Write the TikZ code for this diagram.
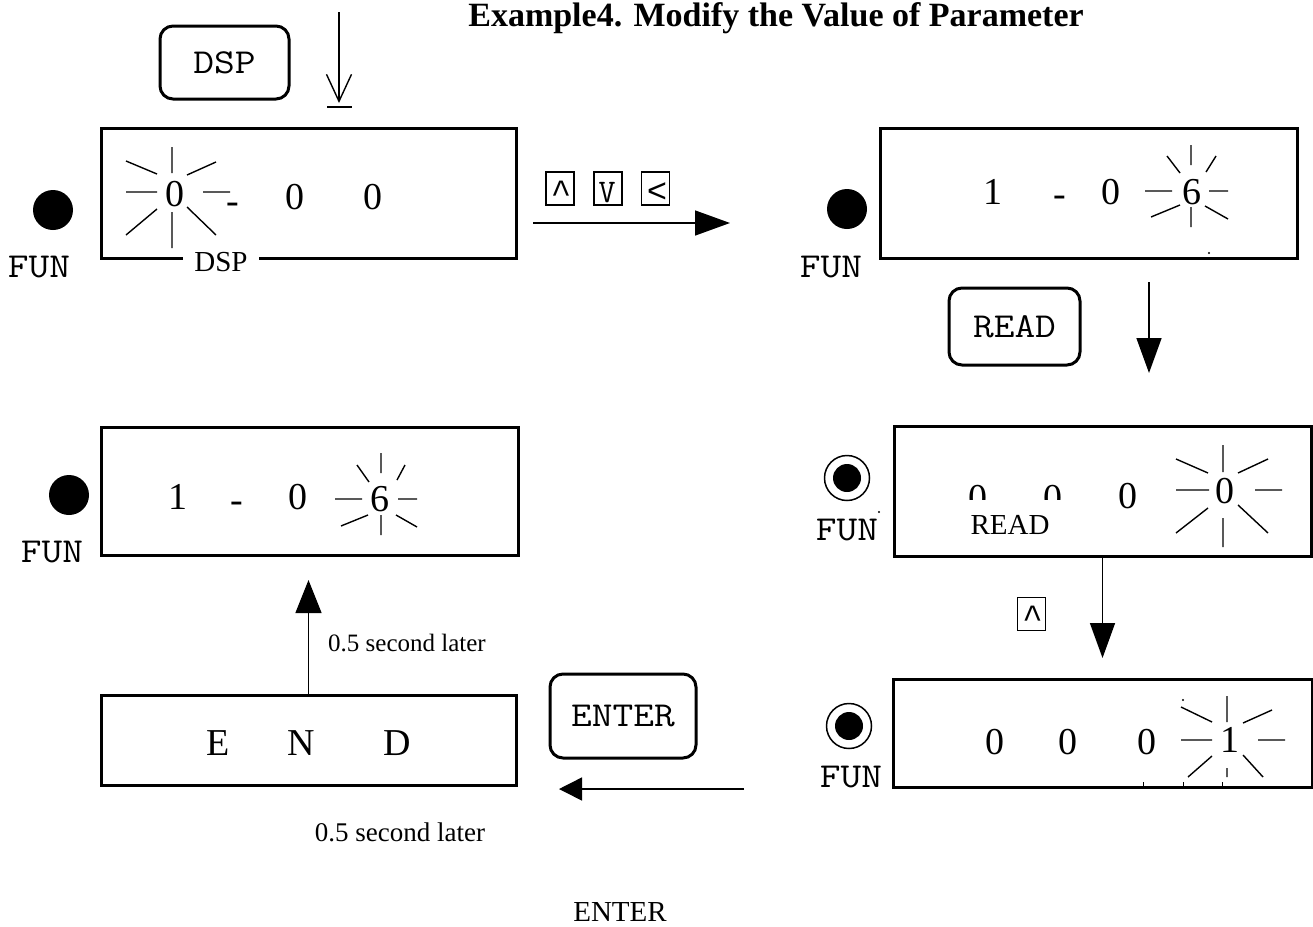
\documentclass[tikz,border=0pt]{standalone}
\usepackage{fontspec}
\setmainfont{Liberation Serif}
\newfontfamily\keyfont{Liberation Mono}
\usetikzlibrary{arrows.meta}
\newcommand\widetxt[1]{\scalebox{1.15}[1]{#1}}
\begin{document}
\begin{tikzpicture}[x=1pt,y=-1pt,
  lcd/.style={draw,line width=3pt,rectangle,inner sep=0pt},
  btn/.style={draw,line width=3pt,rounded corners=13pt,inner sep=0pt,font=\ttfamily\fontsize{35}{36}\selectfont},
  fun/.style={inner sep=0pt,font=\ttfamily\fontsize{35}{36}\selectfont},
  dig/.style={inner sep=0pt,font=\fontsize{38}{40}\selectfont},
  hyph/.style={inner sep=0pt,anchor=base,font=\fontsize{38}{40}\selectfont},
  keybox/.style={draw,line width=1.3pt,minimum width=28pt,minimum height=33pt,inner sep=0pt},
  keysym/.style={inner sep=0pt,anchor=north,font=\keyfont\fontsize{34}{35}\selectfont},
  vsym/.style={inner sep=0pt,anchor=north,font=\ttfamily\fontsize{33}{34}\selectfont},
  ray/.style={line width=1.4pt},
  lbl/.style={inner sep=0pt,font=\fontsize{29}{30}\selectfont},
  arr/.style={line width=1.5pt,-{Triangle[length=35pt,width=25pt]}},
  bigdot/.style={circle,fill=black,inner sep=0pt,minimum size=40pt},
  ringdot/.style={circle,draw,line width=1.5pt,inner sep=0pt,minimum size=45pt},
  speck/.style={fill=black}
]
\useasboundingbox[fill=white] (0,0) rectangle (1313,926);

% title
\node[font=\bfseries\fontsize{34}{36}\selectfont,anchor=base,inner sep=0pt] (title) at (776,27) {Example4. Modify the Value of Parameter};

% ---------- top left ----------
\node[btn,minimum width=129pt,minimum height=73pt] (dspbtn) at (224.5,62.5) {\widetxt{DSP}};
\coordinate (a1s) at (339,12);
\coordinate (a1e) at (339,103);
\coordinate (b1l) at (327,107);
\coordinate (b1r) at (352,107);
\draw[line width=1.5pt,-{Straight Barb[length=27pt,width=25pt,line width=1.4pt]}] (a1s) -- (a1e);
\draw[line width=1.5pt] (b1l) -- (b1r);

\node[lcd,minimum width=415pt,minimum height=130pt] (lcd1) at (308.5,193) {};
\node[dig] (d11) at (175,194) {0};
\node[hyph] (h1) at (233,213) {-};
\node[dig] (d12) at (295,197) {0};
\node[dig] (d13) at (373,197) {0};
\draw[ray] (172,147)--(172,173) (172,212)--(172,248) (126,192)--(157,192) (203,192)--(230,192)
  (126,161)--(157,174) (187,175)--(216,162) (126,235)--(157,209) (187,207)--(216,235);
\node[lbl,fill=white,minimum width=76pt,minimum height=26pt] (dsplbl) at (221,262) {DSP};
\node[bigdot] (dot1) at (53,210) {};
\node[fun] (fun1) at (39,267) {\widetxt{FUN}};

% keys and arrow to right
\node[keybox] (kup) at (560,188.5) {};
\node[keysym] (kups) at (561,181) {\textasciicircum};
\node[keybox] (kdn) at (608,188.5) {};
\node[vsym] (kdns) at (607,182) {V};
\node[keybox] (klt) at (655.5,188.5) {};
\node[keysym] (klts) at (657,182) {<};
\coordinate (a2s) at (533,223);
\coordinate (a2e) at (730,223);
\draw[arr] (a2s) -- (a2e);

% ---------- top right ----------
\node[lcd,minimum width=417pt,minimum height=130pt] (lcd2) at (1088.5,193) {};
\node[dig] (d21) at (993,192) {1};
\node[hyph] (h2) at (1060,206) {-};
\node[dig] (d22) at (1111,192) {0};
\node[dig] (d23) at (1192,192) {6};
\draw[ray] (1191,145)--(1191,165) (1191,207)--(1191,227) (1145,191)--(1172,191) (1209,191)--(1228,191)
  (1167,156)--(1180,173) (1216,156)--(1206,172) (1151,217)--(1180,205) (1205,206)--(1228,219);
\fill[speck] (1209,253) circle[radius=1.2pt];
\node[bigdot] (dot2) at (847,209) {};
\node[fun] (fun2) at (831,267) {\widetxt{FUN}};

\node[btn,minimum width=131pt,minimum height=77pt] (readbtn) at (1014.5,326.5) {\widetxt{READ}};
\coordinate (a3s) at (1149,282);
\coordinate (a3e) at (1149,373);
\draw[arr] (a3s) -- (a3e);

% ---------- middle right ----------
\node[lcd,minimum width=417pt,minimum height=130pt] (lcd3) at (1102.5,491) {};
\node[dig] (d31) at (978,498) {0};
\node[dig] (d32) at (1053,498) {0};
\node[dig] (d33) at (1128,496) {0};
\node[dig] (d34) at (1225,491) {0};
\draw[ray] (1223,445)--(1223,472) (1223,518)--(1223,547) (1176,490)--(1209,490) (1255,490)--(1282,490)
  (1176,459)--(1208,473) (1238,473)--(1268,459) (1176,533)--(1208,508) (1238,505)--(1268,533);
\node[lbl,fill=white,minimum width=106pt,minimum height=50pt] (readlbl) at (1010,525) {READ};
\node[ringdot] (ring3) at (847,478) {};
\fill (ring3.center) circle[radius=14pt];
\node[fun] (fun3) at (847,530) {\widetxt{FUN}};
\fill[speck] (879,512) circle[radius=1.2pt];

\coordinate (a4e) at (1102.5,658);
\draw[arr] (lcd3.south) -- (a4e);
\node[keybox] (kup2) at (1031.5,614) {};
\node[keysym] (kup2s) at (1032.5,606) {\textasciicircum};

% ---------- bottom right ----------
\node[lcd,minimum width=419pt,minimum height=108pt] (lcd4) at (1102.5,733) {};
\node[dig] (d41) at (995,742) {0};
\node[dig] (d42) at (1068,742) {0};
\node[dig] (d43) at (1147,742) {0};
\node[dig] (d44) at (1230,740) {1};
\draw[ray] (1227,696)--(1227,722) (1227,768)--(1227,777) (1181,740)--(1212,740) (1258,740)--(1285,740)
  (1181,707)--(1212,722) (1243,723)--(1272,710) (1188,777)--(1212,756) (1243,755)--(1263,777);
\fill[speck] (1183,700) circle[radius=1.2pt];
\draw[line width=1pt] (1143,782)--(1143,786) (1183,782)--(1183,786) (1222,782)--(1222,786);
\node[ringdot] (ring4) at (849,726) {};
\fill (ring4.center) circle[radius=14pt];
\node[fun] (fun4) at (851,777) {\widetxt{FUN}};

% ---------- middle left ----------
\node[lcd,minimum width=417pt,minimum height=128pt] (lcd5) at (309.5,491) {};
\node[dig] (d51) at (178,497) {1};
\node[hyph] (h5) at (237,512) {-};
\node[dig] (d52) at (298,497) {0};
\node[dig] (d53) at (380,499) {6};
\draw[ray] (381,453)--(381,473) (381,515)--(381,535) (335,499)--(362,499) (398,499)--(417,499)
  (357,465)--(369,482) (405,465)--(397,480) (341,526)--(368,515) (396,515)--(417,527);
\node[bigdot] (dot5) at (69,495) {};
\node[fun] (fun5) at (52,552) {\widetxt{FUN}};

% ---------- bottom left ----------
\node[lcd,minimum width=415pt,minimum height=90pt] (endbox) at (308.5,740) {};
\node[dig] (e1) at (218,743) {E};
\node[dig] (e2) at (301,743) {N};
\node[dig] (e3) at (397,743) {D};
\coordinate (a6e) at (308.5,580);
\draw[line width=1.5pt,-{Triangle[length=33pt,width=26pt]}] (endbox.north) -- (a6e);
\node[inner sep=0pt,font=\fontsize{25}{26}\selectfont] (later1) at (407,643) {0.5 second later};

\node[btn,minimum width=146pt,minimum height=84pt] (enterbtn) at (623,716) {\widetxt{ENTER}};
\coordinate (a5s) at (744,789);
\coordinate (a5e) at (559,789);
\draw[line width=1.5pt,-{Triangle[length=23pt,width=23pt]}] (a5s) -- (a5e);
\node[inner sep=0pt,font=\fontsize{27}{28}\selectfont] (later2) at (400,832) {0.5 second later};
\node[lbl] (enterlbl) at (620,912) {ENTER};
\end{tikzpicture}
\end{document}
